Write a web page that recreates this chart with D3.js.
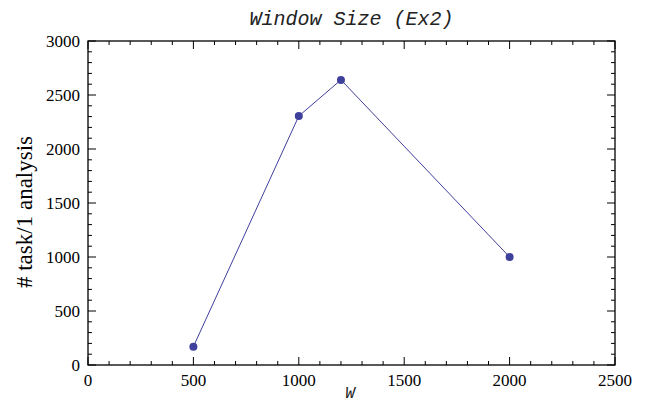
<!DOCTYPE html>
<html>
<head>
<meta charset="utf-8">
<script src="https://cdn.jsdelivr.net/npm/d3@7"></script>
<style>
  body { margin: 0; background: #fff; }
  svg { display: block; }
</style>
</head>
<body>
<div id="chart"></div>
<script>
(function () {
    // data
    var windowSizes = [500, 1000, 1200, 2000];
    var taskCounts = [170, 2305, 2640, 1000];
    var xTicks = [0, 500, 1000, 1500, 2000, 2500];
    var yTicks = [0, 500, 1000, 1500, 2000, 2500, 3000];

    const width = 646, height = 406;
    const left = 88, right = 615, top = 41, bottom = 365;
    const color = '#3f3f9c';

    var svg = d3.select('#chart').append('svg')
        .attr('width', width)
        .attr('height', height);

    var x = d3.scaleLinear().domain([0, 2500]).range([left, right]);
    var y = d3.scaleLinear().domain([0, 3000]).range([bottom, top]);

    // frame
    svg.append('rect')
        .attr('x', left)
        .attr('y', top)
        .attr('width', right - left)
        .attr('height', bottom - top)
        .attr('fill', 'none')
        .attr('stroke', 'black')
        .attr('stroke-width', 1.3);

    // inward ticks on all four sides, minor every 100
    var xMinor = d3.range(0, 2501, 100);
    var yMinor = d3.range(0, 3001, 100);
    var ticks = svg.append('g').attr('stroke', 'black').attr('stroke-width', 1);

    xMinor.forEach(function (v) {
        var len = v % 500 == 0 ? 8 : 4;
        ticks.append('line').attr('x1', x(v)).attr('x2', x(v)).attr('y1', bottom).attr('y2', bottom - len);
        ticks.append('line').attr('x1', x(v)).attr('x2', x(v)).attr('y1', top).attr('y2', top + len);
    });
    yMinor.forEach(function (v) {
        var len = v % 500 == 0 ? 8 : 4;
        ticks.append('line').attr('x1', left).attr('x2', left + len).attr('y1', y(v)).attr('y2', y(v));
        ticks.append('line').attr('x1', right).attr('x2', right - len).attr('y1', y(v)).attr('y2', y(v));
    });

    // tick labels
    svg.append('g').selectAll('text').data(xTicks)
        .enter().append('text')
        .attr('x', function (d) { return x(d); })
        .attr('y', bottom + 21)
        .attr('text-anchor', 'middle')
        .attr('font-family', 'Liberation Serif, Times New Roman, serif')
        .attr('font-size', 17)
        .text(function (d) { return d; });

    svg.append('g').selectAll('text').data(yTicks)
        .enter().append('text')
        .attr('x', left - 8)
        .attr('y', function (d) { return y(d); })
        .attr('dy', '0.35em')
        .attr('text-anchor', 'end')
        .attr('font-family', 'Liberation Serif, Times New Roman, serif')
        .attr('font-size', 17)
        .text(function (d) { return d; });

    // title and axis labels
    svg.append('text')
        .attr('x', (left + right) / 2)
        .attr('y', 25)
        .attr('text-anchor', 'middle')
        .attr('font-family', 'Liberation Mono, Courier New, monospace')
        .attr('font-style', 'italic')
        .attr('fill', '#222')
        .attr('font-size', 20)
        .text('Window Size (Ex2)');

    svg.append('text')
        .attr('x', 350)
        .attr('y', 398)
        .attr('text-anchor', 'middle')
        .attr('font-family', 'Liberation Mono, Courier New, monospace')
        .attr('font-style', 'italic')
        .attr('fill', '#222')
        .attr('font-size', 16)
        .text('W');

    svg.append('text')
        .attr('transform', 'translate(32,212) rotate(-90)')
        .attr('text-anchor', 'middle')
        .attr('font-family', 'Liberation Serif, Times New Roman, serif')
        .attr('font-size', 23)
        .text('# task/1 analysis');

    // series
    var points = windowSizes.map(function (w, i) { return { w: w, n: taskCounts[i] }; });

    var line = d3.line()
        .x(function (d) { return x(d.w); })
        .y(function (d) { return y(d.n); });

    svg.append('path')
        .datum(points)
        .attr('d', line)
        .attr('fill', 'none')
        .attr('stroke', color)
        .attr('stroke-width', 1);

    svg.append('g').selectAll('circle').data(points)
        .enter().append('circle')
        .attr('cx', function (d) { return x(d.w); })
        .attr('cy', function (d) { return y(d.n); })
        .attr('r', 4)
        .attr('fill', color);
})();
</script>
</body>
</html>
